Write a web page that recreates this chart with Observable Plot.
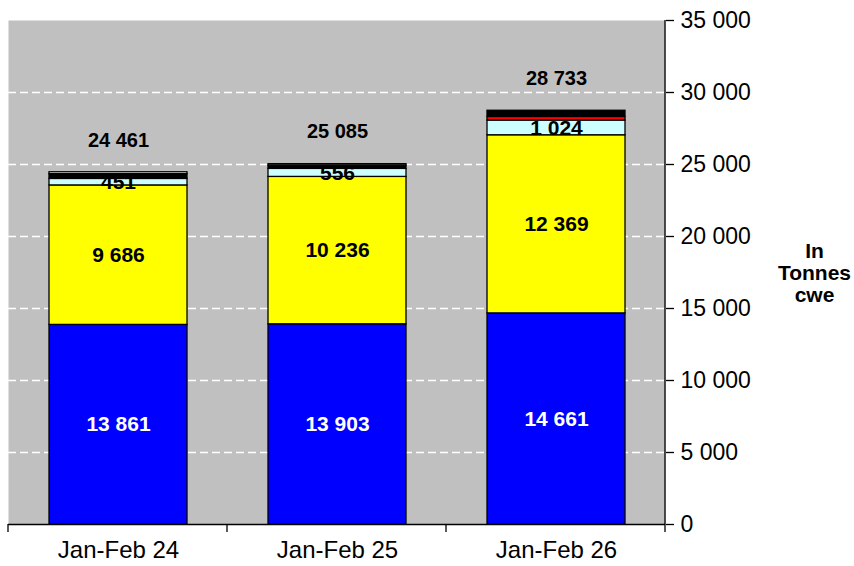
<!DOCTYPE html>
<html>
<head>
<meta charset="utf-8">
<script src="https://cdn.jsdelivr.net/npm/d3@7"></script>
<script src="https://cdn.jsdelivr.net/npm/@observablehq/plot@0.6"></script>
<style>
  html, body { margin: 0; padding: 0; background: #fff; }
  #chart svg { display: block; }
</style>
</head>
<body>
<div id="chart"></div>
<script>
const categories = ["Jan-Feb 24", "Jan-Feb 25", "Jan-Feb 26"];
const seriesNames = ["Series 1", "Series 2", "Series 3", "Series 4", "Series 5", "Series 6"];
const seriesColors = ["#0000ff", "#ffff00", "#ccffff", "#ff0000", "#000000", "#ffffff"];
const series1 = [13861, 13903, 14661];
const series2 = [9686, 10236, 12369];
const series3 = [451, 556, 1024];
const series4 = [0, 0, 250];
const series5 = [330, 230, 429];
const series6 = [133, 98, 0];
const totals = [24461, 25085, 28733];
const yTicks = [0, 5000, 10000, 15000, 20000, 25000, 30000, 35000];
const gridTicks = [5000, 10000, 15000, 20000, 25000, 30000];

const allSeries = [series1, series2, series3, series4, series5, series6];
const rows = [];
categories.forEach((c, i) => {
  allSeries.forEach((s, j) => rows.push({cat: c, series: seriesNames[j], value: s[i]}));
});
const totalRows = categories.map((c, i) => ({cat: c, total: totals[i]}));

const fmt = v => d3.format(",")(v).replace(/,/g, " ");
const font = "'Liberation Sans', Arial, sans-serif";

const frameLines = (index, scales, values, dims) => {
  const g = d3.create("svg:g").attr("stroke", "black").attr("stroke-width", 1.3);
  const x0 = dims.marginLeft, x1 = dims.width - dims.marginRight;
  const y0 = dims.marginTop, y1 = dims.height - dims.marginBottom;
  g.append("line").attr("x1", x1).attr("x2", x1).attr("y1", y0).attr("y2", y1);
  const n = categories.length;
  for (let i = 0; i <= n; i++) {
    const x = x0 + i * (x1 - x0) / n;
    g.append("line").attr("x1", x).attr("x2", x).attr("y1", y1).attr("y2", y1 + 8);
  }
  return g.node();
};

const chart = Plot.plot({
  width: 854,
  height: 566,
  marginLeft: 8,
  marginRight: 189,
  marginTop: 20,
  marginBottom: 42,
  style: {fontFamily: font, background: "#fff", color: "black"},
  x: {domain: categories, paddingInner: 0.37, paddingOuter: 0.185},
  y: {domain: [0, 35000]},
  color: {domain: seriesNames, range: seriesColors},
  marks: [
    Plot.frame({fill: "#c0c0c0", stroke: null}),
    Plot.ruleY(gridTicks, {stroke: "white", strokeWidth: 1.3, strokeDasharray: "8,4"}),
    Plot.barY(rows, {x: "cat", y: "value", fill: "series", stroke: "black", strokeWidth: 1.3}),
    Plot.text(rows, Plot.stackY({x: "cat", y: "value",
      text: d => d.series === "Series 1" ? fmt(d.value) : "",
      fill: "white", fontWeight: "bold", fontSize: 21})),
    Plot.text(rows, Plot.stackY({x: "cat", y: "value",
      text: d => (d.series === "Series 2" || d.series === "Series 3") ? fmt(d.value) : "",
      fill: "black", fontWeight: "bold", fontSize: 21})),
    Plot.text(totalRows, {x: "cat", y: "total", text: d => fmt(d.total), dy: -32,
      fill: "black", fontWeight: "bold", fontSize: 20}),
    Plot.ruleY([0], {stroke: "black", strokeWidth: 1.3}),
    frameLines,
    Plot.axisY({anchor: "right", ticks: yTicks, tickSize: 8, tickPadding: 7,
      tickFormat: fmt, fontSize: 23, label: null, stroke: "black", strokeWidth: 1.3}),
    Plot.axisX({tickSize: 0, tickPadding: 16, fontSize: 24, label: null}),
    Plot.text(["In\nTonnes\ncwe"], {frameAnchor: "right", dx: 149, text: d => d,
      textAnchor: "middle", fontWeight: "bold", fontSize: 21, lineHeight: 1.05})
  ]
});
document.getElementById("chart").appendChild(chart);
</script>
</body>
</html>
